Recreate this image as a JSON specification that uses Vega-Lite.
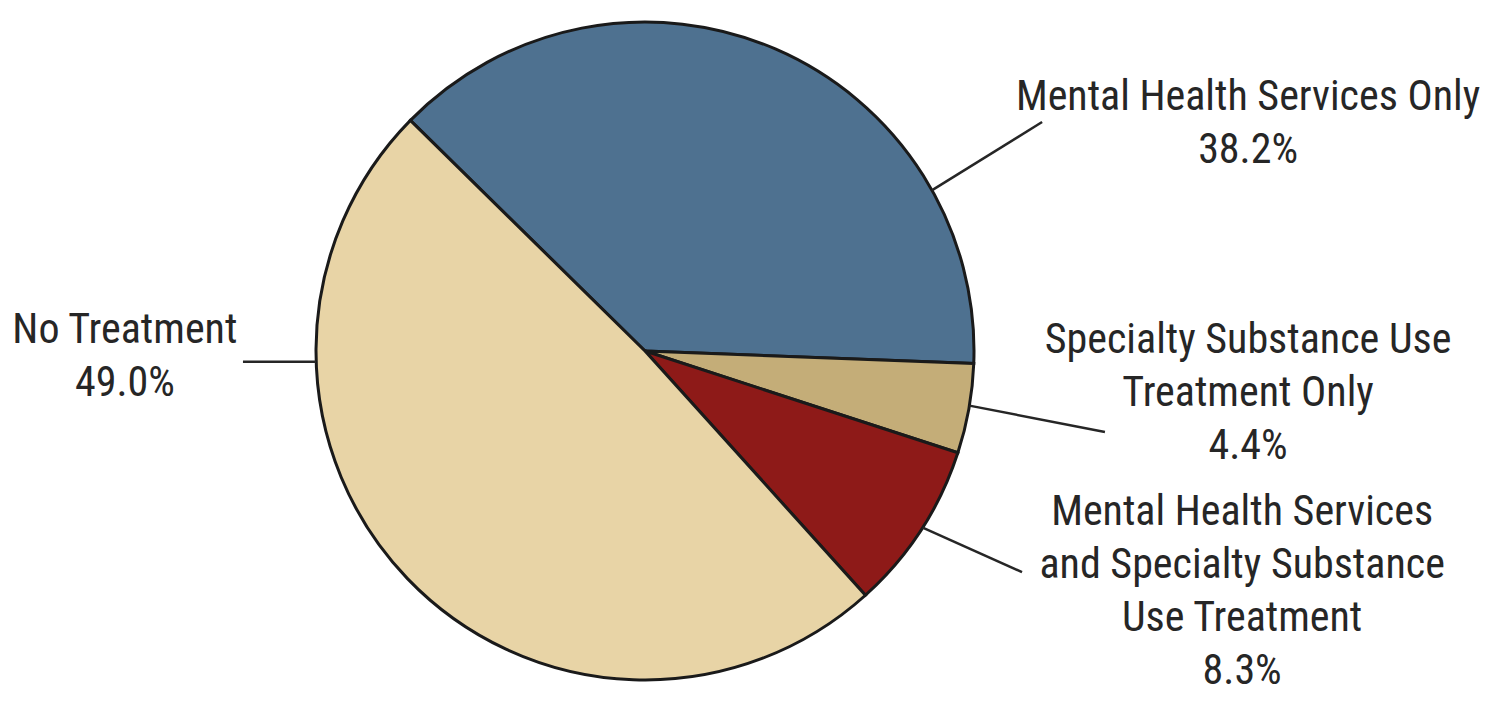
{
  "$schema": "https://vega.github.io/schema/vega-lite/v6.json",
  "width": 1498,
  "height": 701,
  "autosize": {"type": "none"},
  "padding": 0,
  "background": "#ffffff",
  "config": {"view": {"stroke": null}},
  "datasets": {
    "slices": [
      {"idx": 1, "category": "Mental Health Services Only", "pct": 38.2},
      {"idx": 2, "category": "Specialty Substance Use Treatment Only", "pct": 4.4},
      {"idx": 3, "category": "Mental Health Services and Specialty Substance Use Treatment", "pct": 8.3},
      {"idx": 4, "category": "No Treatment", "pct": 49.0}
    ],
    "leaders": [
      {"category": "Mental Health Services Only", "x0": 0.873, "y0": 0.489, "x1": 1.207, "y1": 0.696},
      {"category": "Specialty Substance Use Treatment Only", "x0": 0.986, "y0": -0.166, "x1": 1.398, "y1": -0.246},
      {"category": "Mental Health Services and Specialty Substance Use Treatment", "x0": 0.844, "y0": -0.537, "x1": 1.146, "y1": -0.672},
      {"category": "No Treatment", "x0": -1.0, "y0": -0.033, "x1": -1.222, "y1": -0.033}
    ],
    "labels": [
      {"category": "Mental Health Services Only", "text": "Mental Health Services Only\n38.2%", "tx": 1.833, "ty": 0.772},
      {"category": "Specialty Substance Use Treatment Only", "text": "Specialty Substance Use\nTreatment Only\n4.4%", "tx": 1.833, "ty": 0.0334},
      {"category": "Mental Health Services and Specialty Substance Use Treatment", "text": "Mental Health Services\nand Specialty Substance\nUse Treatment\n8.3%", "tx": 1.815, "ty": -0.49},
      {"category": "No Treatment", "text": "No Treatment\n49.0%", "tx": -1.581, "ty": 0.0638}
    ]
  },
  "layer": [
    {
      "data": {"name": "slices"},
      "mark": {"type": "arc", "outerRadius": 329, "stroke": "#1a1a1a", "strokeWidth": 3},
      "encoding": {
        "x": {"datum": 0, "type": "quantitative", "scale": {"domain": [-1.9605, 2.5927], "nice": false, "zero": false}, "axis": null},
        "y": {"datum": 0, "type": "quantitative", "scale": {"domain": [-1.0638, 1.0669], "nice": false, "zero": false}, "axis": null},
        "theta": {"field": "pct", "type": "quantitative", "stack": true, "scale": {"range": [-0.794, 5.4892]}},
        "order": {"field": "idx", "type": "quantitative"},
        "color": {
          "field": "category", "type": "nominal", "legend": null,
          "scale": {
            "domain": ["Mental Health Services Only", "Specialty Substance Use Treatment Only", "Mental Health Services and Specialty Substance Use Treatment", "No Treatment"],
            "range": ["#4e7190", "#c4ad78", "#8e1a18", "#e8d4a6"]
          }
        }
      }
    },
    {
      "data": {"name": "leaders"},
      "mark": {"type": "rule", "stroke": "#262626", "strokeWidth": 2.5},
      "encoding": {
        "x": {"field": "x0", "type": "quantitative", "scale": {"domain": [-1.9605, 2.5927], "nice": false, "zero": false}, "axis": null},
        "y": {"field": "y0", "type": "quantitative", "scale": {"domain": [-1.0638, 1.0669], "nice": false, "zero": false}, "axis": null},
        "x2": {"field": "x1"},
        "y2": {"field": "y1"}
      }
    },
    {
      "data": {"name": "labels"},
      "mark": {"type": "text", "font": "Roboto Condensed, DejaVu Sans Condensed, sans-serif", "fontSize": 42, "lineHeight": 53, "lineBreak": "\n", "align": "center", "baseline": "middle", "color": "#262626"},
      "encoding": {
        "x": {"field": "tx", "type": "quantitative", "scale": {"domain": [-1.9605, 2.5927], "nice": false, "zero": false}, "axis": null},
        "y": {"field": "ty", "type": "quantitative", "scale": {"domain": [-1.0638, 1.0669], "nice": false, "zero": false}, "axis": null},
        "text": {"field": "text"}
      }
    }
  ]
}
